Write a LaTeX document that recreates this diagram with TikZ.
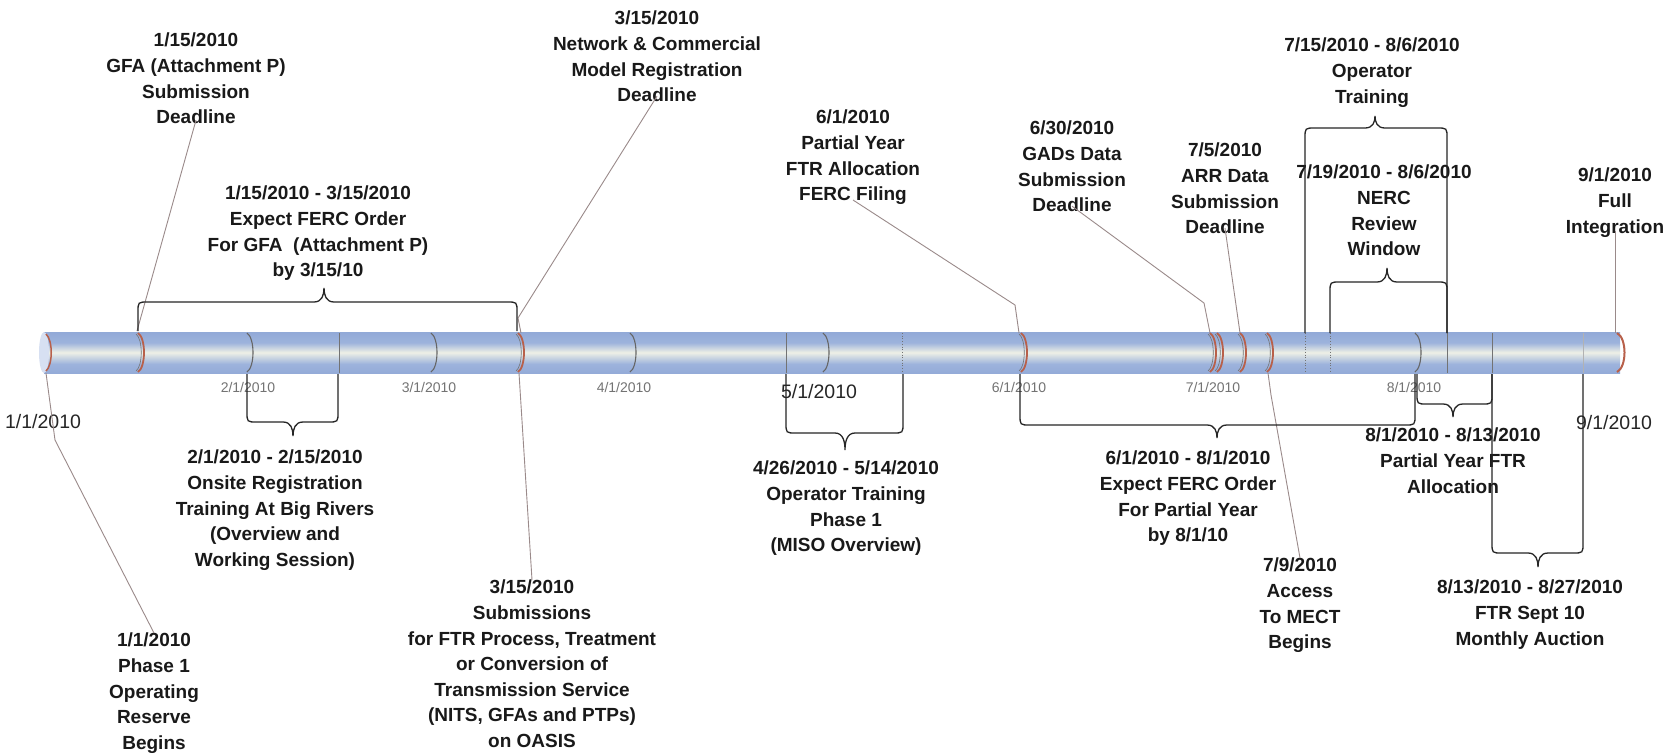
\documentclass[tikz,border=0pt]{standalone}
\usepackage{fontspec}
\setmainfont{Liberation Sans}
\usetikzlibrary{calc}
\definecolor{tA}{HTML}{A7BBE2}
\definecolor{tB}{HTML}{8AA3D4}
\definecolor{tD}{HTML}{9DB3DC}
\definecolor{tC}{HTML}{EEF0E6}
\definecolor{evred}{HTML}{B8604A}
\definecolor{ldrc}{HTML}{9A8A8A}
\pgfdeclareverticalshading{tubeshade}{100bp}{color(0bp)=(tA); color(14bp)=(tB); color(36bp)=(tD); color(50bp)=(tC); color(62bp)=(tD); color(84bp)=(tB); color(100bp)=(tA)}
\newcommand\Hbr[6]{%
 \pgfmathsetmacro\bxa{#1+10}%
 \pgfmathsetmacro\bxb{#2-10}%
 \pgfmathsetmacro\byc{#3+10*sign(#4-#3)}%
 \pgfmathsetmacro\bta{#5-10}%
 \pgfmathsetmacro\btb{#5+10}%
 \pgfmathsetmacro\btc{#5-2}%
 \pgfmathsetmacro\btd{#5+2}%
 \pgfmathsetmacro\bym{#3+0.5*(#6-#3)}%
 \draw[brc] (#1,#4) -- (#1,\byc) .. controls (#1,#3) .. (\bxa,#3) -- (\bta,#3) .. controls (\btc,#3) and (#5,\bym) .. (#5,#6) .. controls (#5,\bym) and (\btd,#3) .. (\btb,#3) -- (\bxb,#3) .. controls (#2,#3) .. (#2,\byc) -- (#2,#4);}
\newcommand\redring[1]{%
 \draw[evred, line width=1.8] (#1-3,333) .. controls (#1+5,338) and (#1+5,367) .. (#1-3,372);
 \draw[black!55, line width=0.6] (#1-5,334) .. controls (#1+2,339) and (#1+2,366) .. (#1-5,371);}
\newcommand\grayring[1]{%
 \draw[black!60, line width=1.1] (#1-3,333) .. controls (#1+5,338) and (#1+5,367) .. (#1-3,372);}
\begin{document}
\begin{tikzpicture}[x=1pt,y=-1pt,
  lbl/.style={font=\bfseries\fontsize{19}{25.6}\selectfont, align=center, anchor=north, inner sep=0pt, text=black!90},
  axs/.style={font=\fontsize{14}{14}\selectfont, text=black!55, inner sep=0pt},
  axl/.style={font=\fontsize{19.5}{20}\selectfont, text=black!85, inner sep=0pt},
  ldr/.style={draw=ldrc, line width=0.9},
  brc/.style={draw=black!85, line width=1.3},
  tick/.style={draw=black!55, line width=0.7}]
\useasboundingbox (0,0) rectangle (1672,753);
\fill[white] (0,0) rectangle (1672,753);
% tube
\shade[shading=tubeshade] (44,332) rectangle (1620,373);
\fill[tA!45!white] (44,352.5) ellipse (5 and 20.5);
\draw[evred, line width=1.5] (46,334) .. controls (53,340) and (53,365) .. (46,371);
\draw[evred, line width=2] (1617,333) .. controls (1627,338) and (1627,367) .. (1617,372);
% markers
\redring{141}
\grayring{250}
\draw[tick] (339,333) -- (339,373);
\grayring{434}
\redring{521}
\grayring{633}
\draw[tick] (786,333) -- (786,373);
\grayring{826}
\draw[tick, dotted, line width=1] (902,333) -- (902,373);
\redring{1024}
\redring{1213}
\redring{1220}
\redring{1243}
\redring{1270}
\draw[tick, dotted, line width=1] (1305,333) -- (1305,373);
\draw[tick, dotted, line width=1] (1330,333) -- (1330,373);
\grayring{1418}
\draw[tick] (1447,333) -- (1447,373);
\draw[tick] (1492,333) -- (1492,373);
\draw[tick, black!30] (1583,333) -- (1583,373);
% axis labels
\node[axl] (d0101) at (43,422) {1/1/2010};
\node[axs] (d0201) at (248,387) {2/1/2010};
\node[axs] (d0301) at (429,387) {3/1/2010};
\node[axs] (d0401) at (624,387) {4/1/2010};
\node[axl] (d0501) at (819,392) {5/1/2010};
\node[axs] (d0601) at (1019,387) {6/1/2010};
\node[axs] (d0701) at (1213,387) {7/1/2010};
\node[axs] (d0801) at (1414,387) {8/1/2010};
\node[axl] (d0901) at (1614,423) {9/1/2010};
% coordinates on the tube
\coordinate (m0101) at (46,373);
\coordinate (m0115) at (137,331);
\coordinate (m0315t) at (521,333);
\coordinate (m0315b) at (519,373);
\coordinate (m0601) at (1019,333);
\coordinate (m0630) at (1210,333);
\coordinate (m0705) at (1240,333);
\coordinate (m0709) at (1268,373);
\coordinate (m0901) at (1615,333);
% labels
\node[lbl] (gfa) at (196,33) {1/15/2010\\GFA (Attachment P)\\Submission\\Deadline};
\node[lbl] (fercgfa) at (318,186) {1/15/2010 - 3/15/2010\\Expect FERC Order\\For GFA\ \ (Attachment P)\\by 3/15/10};
\node[lbl] (netw) at (657,11) {3/15/2010\\Network \& Commercial\\Model Registration\\Deadline};
\node[lbl] (pyf) at (853,110) {6/1/2010\\Partial Year\\FTR Allocation\\FERC Filing};
\node[lbl] (gads) at (1072,121) {6/30/2010\\GADs Data\\Submission\\Deadline};
\node[lbl] (arr) at (1225,143) {7/5/2010\\ARR Data\\Submission\\Deadline};
\node[lbl] (optr) at (1372,38) {7/15/2010 - 8/6/2010\\Operator\\Training};
\node[lbl] (nerc) at (1384,165) {7/19/2010 - 8/6/2010\\NERC\\Review\\Window};
\node[lbl] (full) at (1615,168) {9/1/2010\\Full\\Integration};
\node[lbl] (ph1) at (154,633) {1/1/2010\\Phase 1\\Operating\\Reserve\\Begins};
\node[lbl] (onsite) at (275,450) {2/1/2010 - 2/15/2010\\Onsite Registration\\Training At Big Rivers\\(Overview and\\Working Session)};
\node[lbl] (subm) at (532,580) {3/15/2010\\Submissions\\for FTR Process, Treatment\\or Conversion of\\Transmission Service\\(NITS, GFAs and PTPs)\\on OASIS};
\node[lbl] (miso) at (846,461) {4/26/2010 - 5/14/2010\\Operator Training\\Phase 1\\(MISO Overview)};
\node[lbl] (fercpy) at (1188,451) {6/1/2010 - 8/1/2010\\Expect FERC Order\\For Partial Year\\by 8/1/10};
\node[lbl] (mect) at (1300,558) {7/9/2010\\Access\\To MECT\\Begins};
\node[lbl] (pyalloc) at (1453,428) {8/1/2010 - 8/13/2010\\Partial Year FTR\\Allocation};
\node[lbl] (auction) at (1530,580) {8/13/2010 - 8/27/2010\\FTR Sept 10\\Monthly Auction};
% leaders
\draw[ldr] (m0101) -- (55,440) -- (ph1.north);
\draw[ldr] (gfa.south) ++(0,-4) -- (m0115);
\draw[ldr] (netw.south) ++(0,-6) -- (518,318) -- (m0315t);
\draw[ldr] (m0315b) -- (subm.north);
\draw[ldr] (pyf.south) ++(0,-5) -- (1015,305) -- (m0601);
\draw[ldr] (gads.south) ++(0,-6) -- (1204,303) -- (m0630);
\draw[ldr] (arr.south) ++(0,-6) -- (m0705);
\draw[ldr] (m0709) -- (1271,395) -- (mect.north);
\draw[ldr] (full.south) ++(0,-6) -- (m0901);
% braces
\Hbr{138}{517}{302}{331}{324}{288}
\Hbr{247}{338}{422}{374}{293}{436}
\Hbr{786}{903}{433}{374}{845}{450}
\Hbr{1020}{1415}{425}{374}{1217}{438}
\Hbr{1305}{1447}{128}{333}{1375}{116}
\Hbr{1330}{1447}{282}{333}{1387}{268}
\Hbr{1417}{1492}{404}{374}{1453}{417}
\Hbr{1492}{1583}{553}{374}{1538}{567}
\end{tikzpicture}
\end{document}
